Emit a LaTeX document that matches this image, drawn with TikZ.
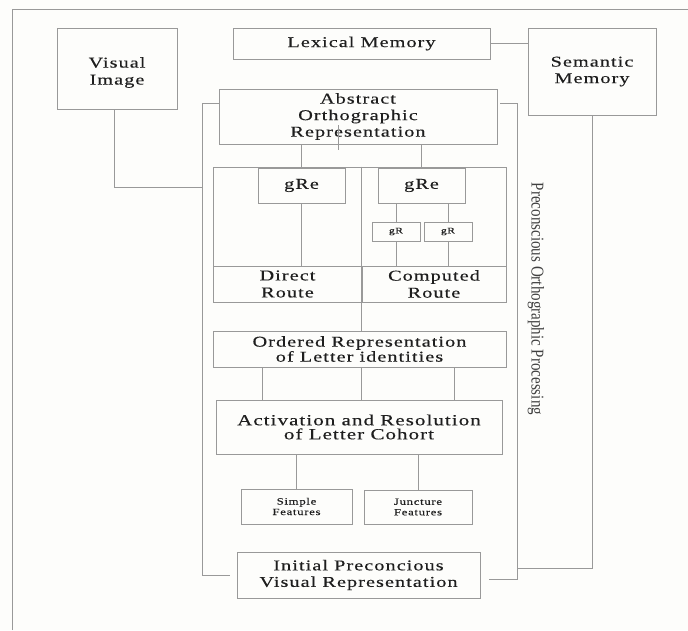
\documentclass[tikz,border=0pt]{standalone}
\usepackage{fontspec}
\setmainfont{Liberation Serif}[FakeStretch=1.35, LetterSpace=7, FakeBold=0.3]
\newfontfamily\sidefont{Liberation Serif}[FakeStretch=0.835]
\definecolor{linegray}{HTML}{999999}
\definecolor{inkgray}{HTML}{1E1E1E}
\definecolor{paper}{HTML}{FDFDFB}
\begin{document}
\begin{tikzpicture}[x=1pt,y=-1pt,
  box/.style={draw=linegray, line width=0.8pt, inner sep=0pt, align=center,
    text=inkgray, font=\fontsize{15}{16.5}\selectfont},
  boxtext/.style={inner sep=0pt, align=center, text=inkgray,
    font=\fontsize{15}{17}\selectfont},
  tinybox/.style={box, font=\fontsize{8.5}{9}\selectfont},
  smallbox/.style={box, font=\fontsize{9.5}{10.5}\selectfont},
  conn/.style={draw=linegray, line width=0.8pt}]
\fill[paper] (0,0) rectangle (688,630);
\useasboundingbox (0,0) rectangle (688,630);

% page frame
\draw[conn] (12,630) -- (12,9) -- (688,9);

% upper boxes
\node[box, minimum width=120, minimum height=81] (vis) at (117,68.5) {};
\node[boxtext] (visText) at ([yshift=-4pt]vis.center) {Visual\\Image};
\node[box, minimum width=257, minimum height=31] (lex) at (361.5,43.5) {Lexical Memory};
\node[box, minimum width=128, minimum height=87] (sem) at (592,71.5) {Semantic\\Memory};
\node[box, minimum width=278, minimum height=55] (abs) at (358,116.5) {Abstract\\Orthographic\\Representation};

% routes
\node[box, minimum width=293, minimum height=135] (routes) at (359.5,234.5) {};
\node[box, minimum width=149, minimum height=36, font=\fontsize{15}{17}\selectfont] (direct) at (287.5,284) {Direct\\Route};
\node[box, minimum width=144, minimum height=36, font=\fontsize{15}{17}\selectfont] (computed) at (434,284) {Computed\\Route};
\node[box, minimum width=87, minimum height=35] (gre1) at (301.5,185.5) {gRe};
\node[box, minimum width=87, minimum height=35] (gre2) at (421.5,185.5) {gRe};
\node[tinybox, minimum width=48, minimum height=19] (gr1) at (396,231.5) {gR};
\node[tinybox, minimum width=48, minimum height=19] (gr2) at (448,231.5) {gR};

% lower chain
\node[box, minimum width=293, minimum height=36, font=\fontsize{15}{15}\selectfont] (ord) at (359.5,349) {Ordered Representation\\of Letter identities};
\node[box, minimum width=286, minimum height=54, font=\fontsize{15.5}{14}\selectfont] (act) at (359,427) {Activation and Resolution\\of Letter Cohort};
\node[smallbox, minimum width=111, minimum height=35] (simp) at (296.5,506.5) {Simple\\Features};
\node[smallbox, minimum width=108, minimum height=34] (junc) at (418,507) {Juncture\\Features};
\node[box, minimum width=243, minimum height=46] (init) at (358.5,575) {Initial Preconcious\\Visual Representation};

% side label
\node[rotate=-90, text=inkgray!85, inner sep=0pt, font=\sidefont\fontsize{18}{20}\selectfont] (side) at (536,299) {Preconscious Orthographic Processing};

% connectors
\coordinate (lbtop) at (202,103);
\coordinate (lbbot) at (202,575);
\coordinate (vjoin) at (202,187);
\coordinate (rbtop) at (517,103);
\coordinate (rbbot) at (517,579);
\coordinate (sjoin) at (517,568);

\draw[conn] (lex.east) -- (sem.west |- lex.east);
\draw[conn] ([xshift=-3pt]vis.south) -- ([xshift=-3pt]vis.south |- vjoin) -- (vjoin);
\draw[conn] (abs.west |- lbtop) -- (lbtop) -- (lbbot) -- ([xshift=-7pt]init.west |- lbbot);
\draw[conn] ([xshift=3pt]abs.east |- rbtop) -- (rbtop) -- (rbbot) -- ([xshift=9pt]init.east |- rbbot);
\draw[conn] (sem.south) -- (sem.south |- sjoin) -- (sjoin);

\coordinate (tickA) at (338,125);
\coordinate (tickB) at (338,150);
\draw[conn] (tickA) -- (tickB);

\draw[conn] (abs.south -| gre1.north) -- (gre1.north);
\draw[conn] (abs.south -| gre2.north) -- (gre2.north);
\draw[conn] (gre1.south) -- (direct.north -| gre1.south);
\draw[conn] (gre2.south -| gr1.north) -- (gr1.north);
\draw[conn] (gre2.south -| gr2.north) -- (gr2.north);
\draw[conn] (gr1.south) -- (computed.north -| gr1.south);
\draw[conn] (gr2.south) -- (computed.north -| gr2.south);
\draw[conn] (routes.north -| computed.west) -- (ord.north -| computed.west);

\coordinate (oa1) at (262,0);
\coordinate (oa3) at (454,0);
\draw[conn] (ord.south -| oa1) -- (act.north -| oa1);
\draw[conn] (ord.south -| computed.west) -- (act.north -| computed.west);
\draw[conn] (ord.south -| oa3) -- (act.north -| oa3);

\draw[conn] (act.south -| simp.north) -- (simp.north);
\draw[conn] (act.south -| junc.north) -- (junc.north);
\end{tikzpicture}
\end{document}
